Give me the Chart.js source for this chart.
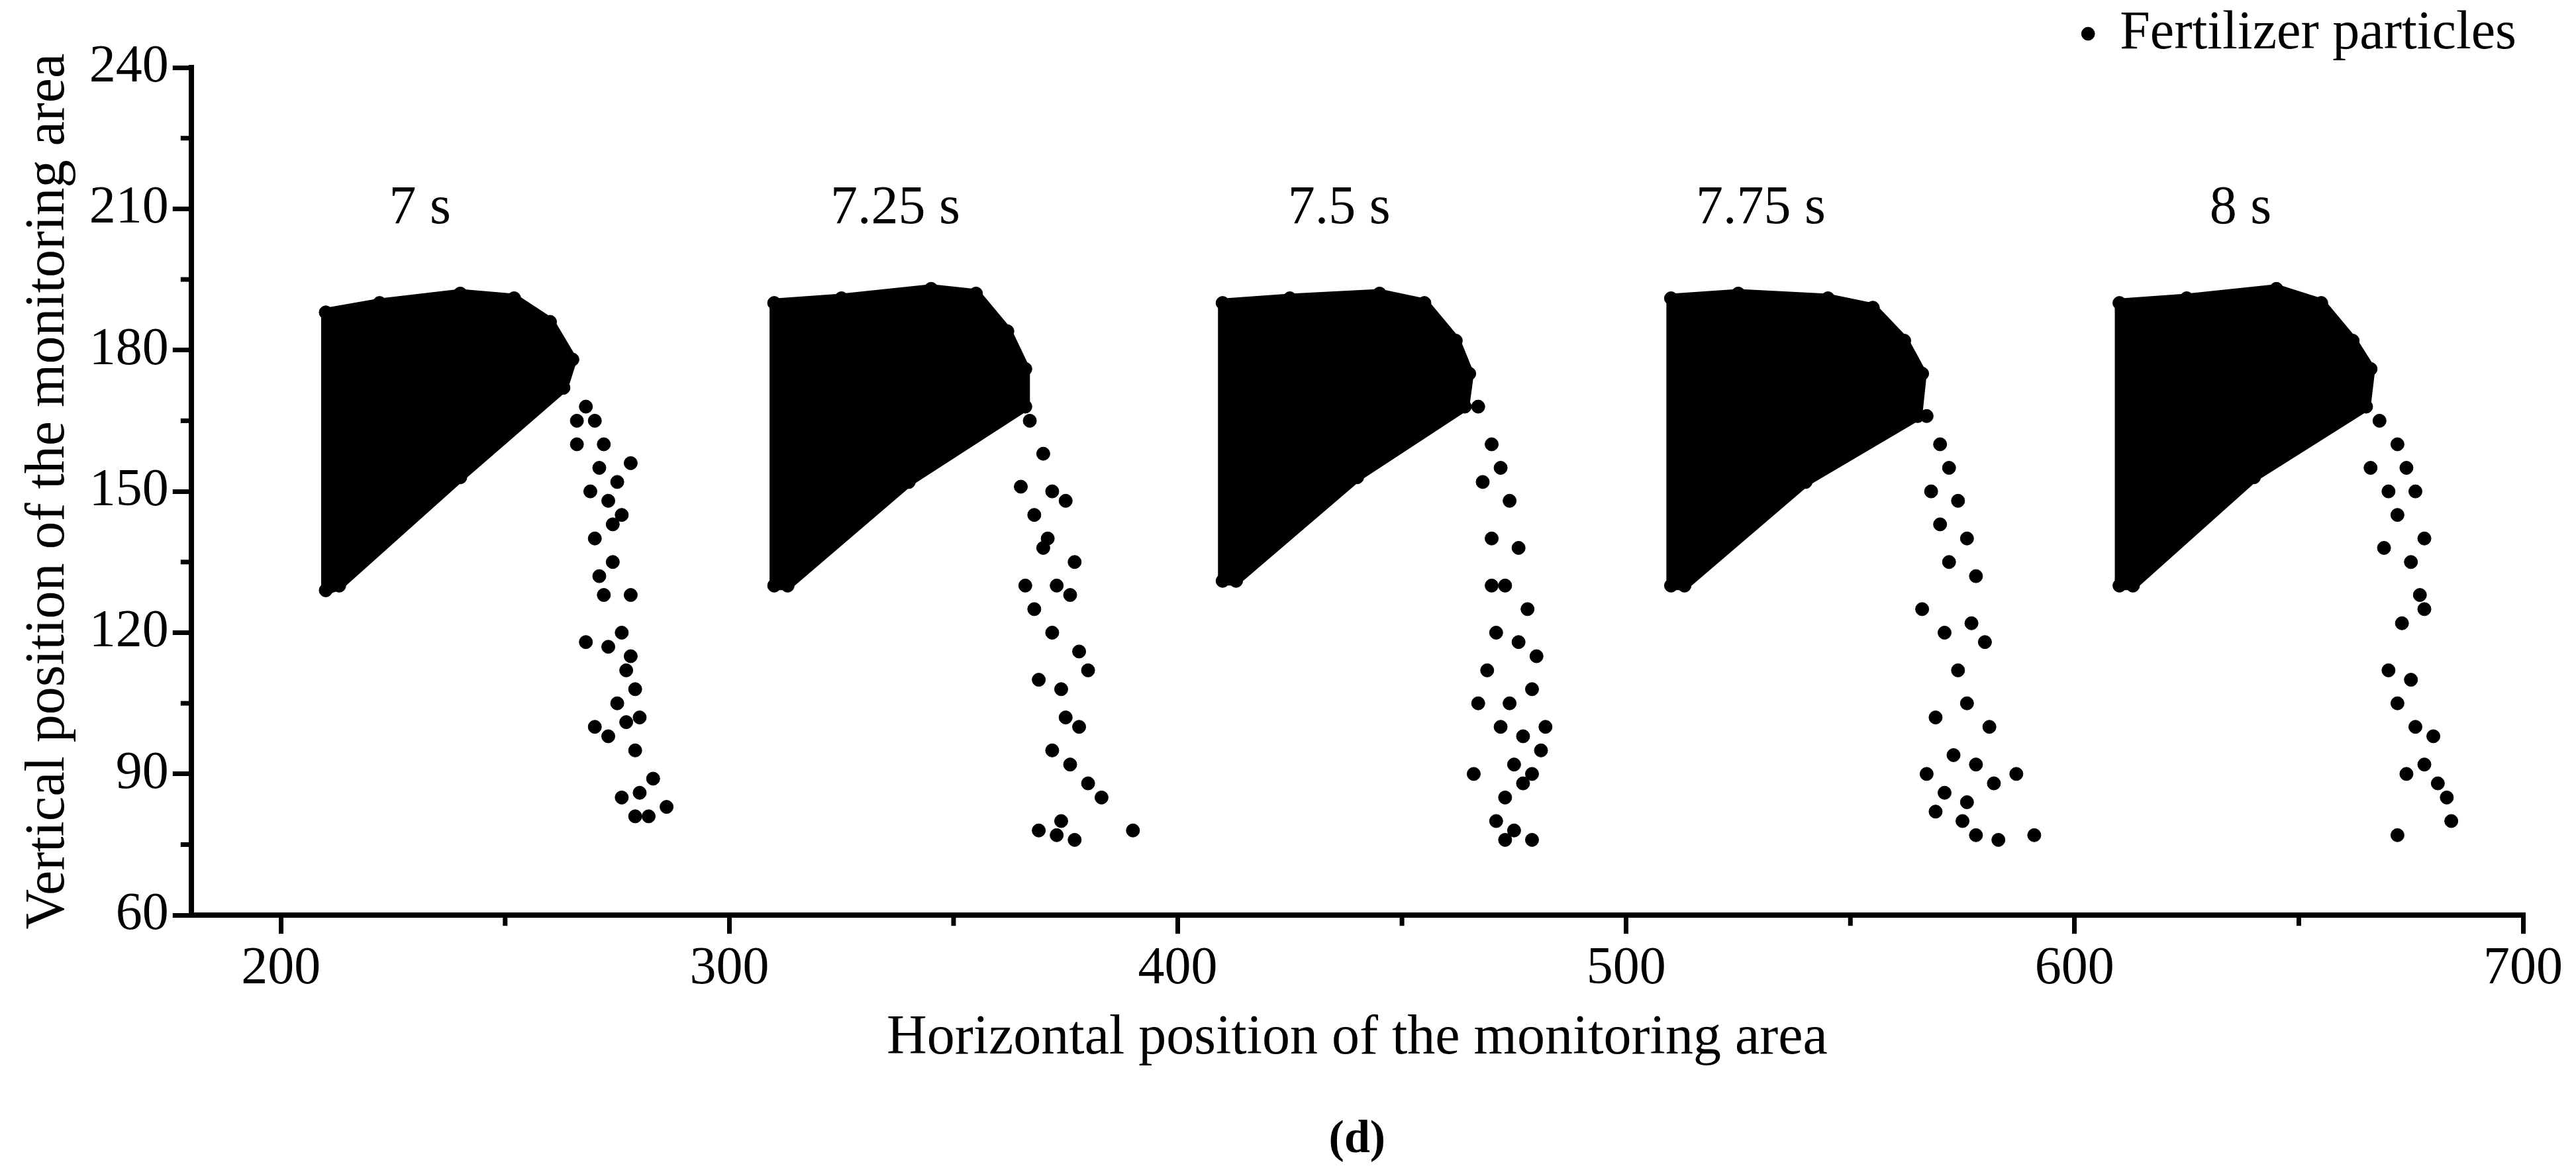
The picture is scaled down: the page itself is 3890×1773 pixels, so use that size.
<!DOCTYPE html>
<html><head><meta charset="utf-8">
<script src="https://cdn.jsdelivr.net/npm/chart.js@4"></script>
<style>html,body{margin:0;padding:0;background:#fff}canvas{display:block}</style>
</head><body>
<canvas id="c" width="3890" height="1773"></canvas>
<script>
const timeLabels = ["7 s","7.25 s","7.5 s","7.75 s","8 s"];
const timeLabelX = [231,337,436,530,637];
const timeLabelY = 210;
const xTicks = [200,300,400,500,600,700];
const yTicks = [60,90,120,150,180,210,240];
const core7   = [[210,129],[210,188],[222,190],[240,192],[252,191],[260,186],[265,178],[263,172],[240,153],[213,130]];
const core725 = [[310,130],[310,190],[325,191],[345,193],[355,192],[362,184],[366,176],[366,168],[340,152],[313,130]];
const core75  = [[410,131],[410,190],[425,191],[445,192],[455,190],[462,182],[465,175],[464,168],[440,153],[413,131]];
const core775 = [[510,130],[510,191],[525,192],[545,191],[555,189],[562,182],[566,175],[565,166],[540,152],[513,130]];
const core8   = [[610,130],[610,190],[625,191],[645,193],[655,190],[662,182],[666,176],[665,168],[640,153],[613,130]];
const tail7 = [[266,165],[268,168],[270,165],[272,160],[266,160],[271,155],[275,152],[278,156],[269,150],[273,148],[276,145],[274,143],[270,140],[274,135],[271,132],[272,128],[278,128],[276,120],[268,118],[273,117],[278,115],[277,112],[279,108],[275,105],[270,100],[277,101],[280,102],[273,98],[279,95],[276,85],[280,86],[283,89],[279,81],[282,81],[286,83]];
const tail725 = [[367,165],[370,158],[365,151],[372,150],[368,145],[375,148],[371,140],[377,135],[370,138],[366,130],[373,130],[368,125],[376,128],[372,120],[378,116],[369,110],[374,108],[380,112],[375,102],[378,100],[372,95],[376,92],[380,88],[383,85],[374,80],[369,78],[373,77],[377,76],[390,78]];
const tail75 = [[467,168],[470,160],[468,152],[472,155],[474,148],[470,140],[476,138],[473,130],[470,130],[478,125],[471,120],[476,118],[480,115],[469,112],[474,105],[479,108],[467,105],[472,100],[477,98],[482,100],[481,95],[475,92],[479,90],[466,90],[473,85],[477,88],[471,80],[475,78],[473,76],[479,76]];
const tail775 = [[567,166],[570,160],[572,155],[568,150],[574,148],[570,143],[576,140],[572,135],[578,132],[566,125],[571,120],[577,122],[580,118],[574,112],[569,102],[576,105],[581,100],[573,94],[578,92],[567,90],[587,90],[571,86],[576,84],[582,88],[569,82],[575,80],[578,77],[583,76],[591,77]];
const tail8 = [[668,165],[672,160],[666,155],[674,155],[670,150],[676,150],[672,145],[678,140],[669,138],[675,135],[677,128],[673,122],[678,125],[670,112],[675,110],[672,105],[676,100],[680,98],[678,92],[674,90],[681,88],[683,85],[684,80],[672,77]];

const cores = [core7,core725,core75,core775,core8];
const allPts = [...tail7,...tail725,...tail75,...tail775,...tail8,...cores.flat()].map(p=>({x:p[0],y:p[1]}));
const FONT = "'Liberation Serif','Times New Roman',serif";

const deco = {
  id:'deco',
  beforeDatasetsDraw(ch){
    const {ctx,scales:{x,y}} = ch;
    ctx.save(); ctx.fillStyle='#000'; ctx.strokeStyle='#000'; ctx.lineWidth=14; ctx.lineJoin='round';
    cores.forEach(c=>{ctx.beginPath();c.forEach((p,i)=>{const px=x.getPixelForValue(p[0]),py=y.getPixelForValue(p[1]);i?ctx.lineTo(px,py):ctx.moveTo(px,py);});ctx.closePath();ctx.fill();ctx.stroke();});
    ctx.restore();
  },
  afterDraw(ch){
    const {ctx,scales:{x,y},chartArea:a} = ch;
    ctx.save(); ctx.fillStyle='#000'; ctx.strokeStyle='#000';
    ctx.font = `82px ${FONT}`; ctx.textAlign='center'; ctx.textBaseline='middle';
    timeLabels.forEach((t,i)=>ctx.fillText(t,x.getPixelForValue(timeLabelX[i]),y.getPixelForValue(timeLabelY)));
    ctx.lineWidth=7;
    for(let v=250;v<700;v+=100){const px=x.getPixelForValue(v);ctx.beginPath();ctx.moveTo(px,a.bottom);ctx.lineTo(px,a.bottom+16);ctx.stroke();}
    for(let v=75;v<240;v+=30){const py=y.getPixelForValue(v);ctx.beginPath();ctx.moveTo(a.left,py);ctx.lineTo(a.left-16,py);ctx.stroke();}
    ctx.font = `bold 70px ${FONT}`; ctx.textBaseline='alphabetic';
    ctx.fillText('(d)', (a.left+a.right)/2, 1740);
    ctx.restore();
  }
};

new Chart(document.getElementById('c'),{
  type:'scatter',
  data:{datasets:[{label:'Fertilizer particles',data:allPts,backgroundColor:'#000',borderColor:'#000',pointRadius:10,pointHoverRadius:10}]},
  options:{
    responsive:false,animation:false,devicePixelRatio:1,
    layout:{padding:{top:0,right:80,bottom:150,left:20}},
    plugins:{
      legend:{position:'top',align:'end',labels:{usePointStyle:true,pointStyle:'circle',boxWidth:14,boxHeight:14,padding:10,color:'#000',font:{family:FONT,size:82}}},
      tooltip:{enabled:false}
    },
    scales:{
      x:{min:180,max:700,
        afterBuildTicks:s=>{s.ticks=xTicks.map(v=>({value:v}));},
        border:{color:'#000',width:8},
        grid:{drawOnChartArea:false,color:'#000',tickColor:'#000',tickLength:28,lineWidth:7},
        ticks:{color:'#000',font:{family:FONT,size:80},padding:6,maxRotation:0},
        title:{display:true,text:'Horizontal position of the monitoring area',color:'#000',font:{family:FONT,size:84},padding:{top:0}}},
      y:{min:60,max:240,
        afterBuildTicks:s=>{s.ticks=yTicks.map(v=>({value:v}));},
        border:{color:'#000',width:8},
        grid:{drawOnChartArea:false,color:'#000',tickColor:'#000',tickLength:28,lineWidth:7},
        ticks:{color:'#000',font:{family:FONT,size:80},padding:6},
        title:{display:true,text:'Vertical position of the monitoring area',color:'#000',font:{family:FONT,size:84},padding:{bottom:4}}}
    }
  },
  plugins:[deco]
});
</script>
</body></html>
